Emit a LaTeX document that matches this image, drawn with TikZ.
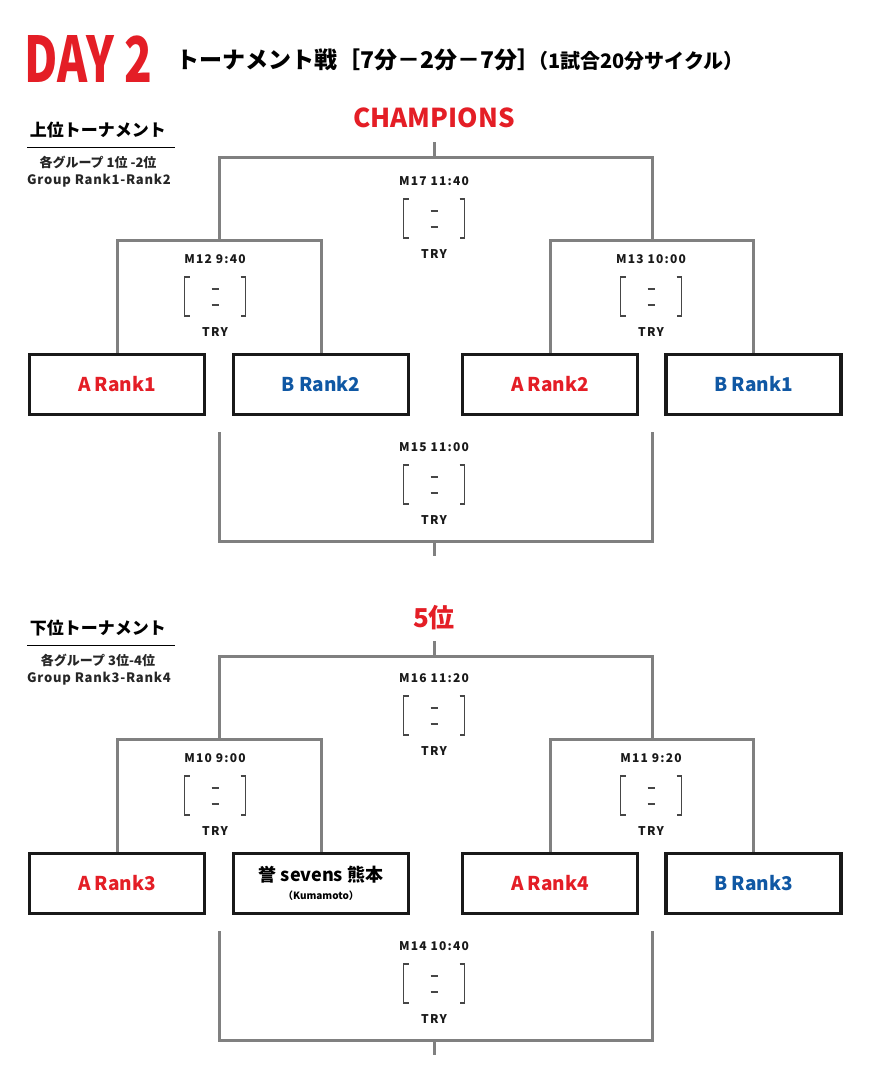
\documentclass[tikz,border=0pt]{standalone}
\usepackage{fontspec}
\setmainfont{Noto Sans CJK JP}
\newfontfamily\lsa[LetterSpace=10]{Noto Sans CJK JP}
\newfontfamily\lsb[LetterSpace=6]{Noto Sans CJK JP}
\definecolor{tred}{RGB}{228,30,38}
\definecolor{tblue}{RGB}{16,88,164}
\definecolor{lgray}{RGB}{128,128,128}
\definecolor{bgray}{RGB}{70,70,70}
\newcommand\fs[1]{\fontsize{#1pt}{#1pt}\selectfont}
\newcommand\matchinfo[4]{% name, x, y(label), text
  \node[mlabel] (#1lab) at (#2,#3) {#4};
  \coordinate (#1tl) at ($(#2,#3)+(-30.5,18)$);
  \coordinate (#1bl) at ($(#2,#3)+(-30.5,57)$);
  \coordinate (#1tr) at ($(#2,#3)+(30.5,18)$);
  \coordinate (#1br) at ($(#2,#3)+(30.5,57)$);
  \draw[brk] ($(#1tl)+(5,0)$) -- (#1tl) -- (#1bl) -- ($(#1bl)+(5,0)$);
  \draw[brk] ($(#1tr)+(-5,0)$) -- (#1tr) -- (#1br) -- ($(#1br)+(-5,0)$);
  \coordinate (#1d1) at ($(#2,#3)+(0,30)$);
  \coordinate (#1d2) at ($(#2,#3)+(0,46)$);
  \draw[brk] ($(#1d1)+(-3.5,0)$) -- ($(#1d1)+(3.5,0)$);
  \draw[brk] ($(#1d2)+(-3.5,0)$) -- ($(#1d2)+(3.5,0)$);
  \node[mlabel] (#1try) at ($(#2,#3)+(0,73)$) {TRY};
}
\usetikzlibrary{calc}
\begin{document}
\begin{tikzpicture}[x=1pt,y=-1pt,
  gline/.style={draw=lgray,line width=3pt},
  brk/.style={draw=bgray,line width=1.1pt},
  mlabel/.style={inner sep=0pt,font=\lsa\fs{12}\bfseries,text=black!90},
  team/.style={draw=black!90,line width=3.5pt,minimum width=175pt,minimum height=60pt,inner sep=0pt,font=\fs{19}\bfseries},
  rteam/.style={team,text=tred},
  bteam/.style={team,text=tblue},
  hdr/.style={inner sep=0pt,font=\fs{17}\bfseries},
  sub/.style={inner sep=0pt,font=\fs{13}\bfseries,text=black!85},
  subl/.style={inner sep=0pt,font=\lsb\fs{13}\bfseries,text=black!85},
  win/.style={inner sep=0pt,font=\fs{26}\bfseries,text=tred}]
\useasboundingbox (0,0) rectangle (883,1077);
\fill[white] (0,0) rectangle (883,1077);

% ---- Title ----
\node[inner sep=0pt,anchor=north west,text=tred] (day) at (24,35)
  {\resizebox{128pt}{47pt}{\bfseries DAY 2}};
\node[inner sep=0pt,anchor=west,font=\fs{23}\bfseries] (ttl) at (176,60) {トーナメント戦［7分－2分－7分］};
\node[inner sep=0pt,anchor=west,font=\fs{20}\bfseries] (ttl2) at (528,61) {（1試合20分サイクル）};

% ---- Upper header ----
\node[hdr] (uh) at (98,130) {上位トーナメント};
\coordinate (uhl) at (27,147); \coordinate (uhr) at (175,147);
\draw[black,line width=1pt] (uhl) -- (uhr);
\node[sub] (uh1) at (98,162) {各グループ 1位 -2位};
\node[subl] (uh2) at (99,181) {Group Rank1-Rank2};

% ---- Upper bracket ----
\node[win] (champ) at (434,118) {CHAMPIONS};
\node[rteam] (a1) at (117,384.5) {A Rank1};
\node[bteam] (b2) at (321,384.5) {B Rank2};
\node[rteam] (a2) at (550,384.5) {A Rank2};
\node[bteam] (b1) at (753.5,384.5) {B Rank1};
\coordinate (w12) at (219,240);
\coordinate (w13) at (652,240);
\coordinate (c17) at (434,157);
\coordinate (t17) at (434,142);
\draw[gline] (a1.north) |- (w12) -| (b2.north);
\draw[gline] (a2.north) |- (w13) -| (b1.north);
\draw[gline] (w12) |- (c17) -| (w13);
\draw[gline] (c17) -- (t17);
\coordinate (l15) at (219,432);
\coordinate (r15) at (652,432);
\coordinate (c15) at (434,541);
\coordinate (t15) at (434,556);
\draw[gline] (l15) |- (c15) -| (r15);
\draw[gline] (c15) -- (t15);
\matchinfo{m17}{434}{181}{M17 11:40}
\matchinfo{m12}{215}{259}{M12 9:40}
\matchinfo{m13}{651}{259}{M13 10:00}
\matchinfo{m15}{434}{447}{M15 11:00}

% ---- Lower header ----
\node[hdr] (lh) at (98,628) {下位トーナメント};
\coordinate (lhl) at (27,645); \coordinate (lhr) at (175,645);
\draw[black,line width=1pt] (lhl) -- (lhr);
\node[sub] (lh1) at (98,660) {各グループ 3位-4位};
\node[subl] (lh2) at (99,679) {Group Rank3-Rank4};

% ---- Lower bracket ----
\node[win] (fifth) at (434,618) {5位};
\node[rteam] (a3) at (117,883.5) {A Rank3};
\node[team,align=center] (km) at (321,883.5) {{\fs{18}\bfseries 誉 sevens 熊本}\\[-1pt]{\fs{10}\bfseries （Kumamoto）}};
\node[rteam] (a4) at (550,883.5) {A Rank4};
\node[bteam] (b3) at (753.5,883.5) {B Rank3};
\coordinate (w10) at (219,739);
\coordinate (w11) at (652,739);
\coordinate (c16) at (434,656);
\coordinate (t16) at (434,641);
\draw[gline] (a3.north) |- (w10) -| (km.north);
\draw[gline] (a4.north) |- (w11) -| (b3.north);
\draw[gline] (w10) |- (c16) -| (w11);
\draw[gline] (c16) -- (t16);
\coordinate (l14) at (219,931);
\coordinate (r14) at (652,931);
\coordinate (c14) at (434,1040);
\coordinate (t14) at (434,1055);
\draw[gline] (l14) |- (c14) -| (r14);
\draw[gline] (c14) -- (t14);
\matchinfo{m16}{434}{678}{M16 11:20}
\matchinfo{m10}{215}{758}{M10 9:00}
\matchinfo{m11}{651}{758}{M11 9:20}
\matchinfo{m14}{434}{946}{M14 10:40}
\end{tikzpicture}
\end{document}
